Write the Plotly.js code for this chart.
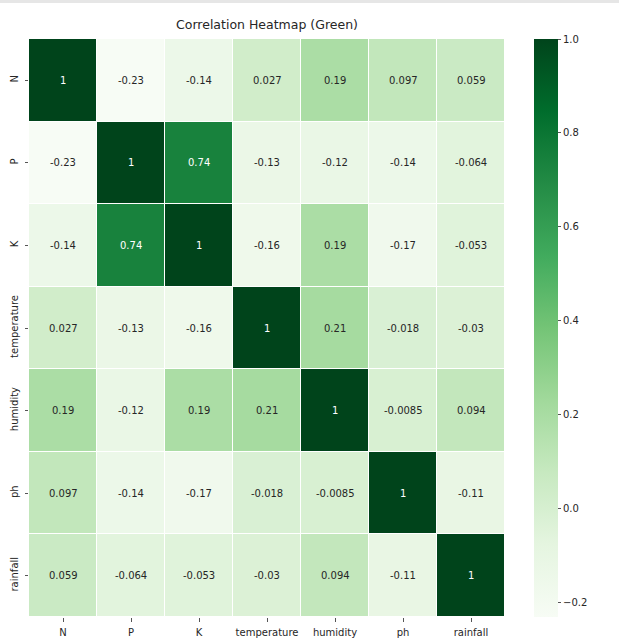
<!DOCTYPE html>
<html>
<head>
<meta charset="utf-8">
<script src="https://cdn.plot.ly/plotly-3.0.1.min.js"></script>
<style>html,body{margin:0;padding:0;background:#fff;}#chart{width:619px;height:639px;}</style>
</head>
<body>
<div id="chart"></div>
<script>
const labels = ["N", "P", "K", "temperature", "humidity", "ph", "rainfall"];
const rowN = [1, -0.23, -0.14, 0.027, 0.19, 0.097, 0.059];
const rowP = [-0.23, 1, 0.74, -0.13, -0.12, -0.14, -0.064];
const rowK = [-0.14, 0.74, 1, -0.16, 0.19, -0.17, -0.053];
const rowTemperature = [0.027, -0.13, -0.16, 1, 0.21, -0.018, -0.03];
const rowHumidity = [0.19, -0.12, 0.19, 0.21, 1, -0.0085, 0.094];
const rowPh = [0.097, -0.14, -0.17, -0.018, -0.0085, 1, -0.11];
const rowRainfall = [0.059, -0.064, -0.053, -0.03, 0.094, -0.11, 1];
const zMin = -0.231;
const zMax = 1;
const cbTicks = [-0.2, 0, 0.2, 0.4, 0.6, 0.8, 1.0];

const z = [rowN, rowP, rowK, rowTemperature, rowHumidity, rowPh, rowRainfall];

const greens = ["#f7fcf5", "#e5f5e0", "#c7e9c0", "#a1d99b", "#74c476", "#41ab5d", "#238b45", "#006d2c", "#00441b"];
const colorscale = greens.map((c, i) => [i / (greens.length - 1), c]);

function hexToRgb(h) { return [parseInt(h.slice(1,3),16), parseInt(h.slice(3,5),16), parseInt(h.slice(5,7),16)]; }
function colorAt(v) {
  let t = (v - zMin) / (zMax - zMin);
  t = Math.max(0, Math.min(1, t));
  const p = t * (greens.length - 1);
  const i = Math.min(Math.floor(p), greens.length - 2);
  const f = p - i;
  const a = hexToRgb(greens[i]), b = hexToRgb(greens[i + 1]);
  return a.map((x, k) => x + (b[k] - x) * f);
}
function lum(rgb) {
  const c = rgb.map(x => { x /= 255; return x <= 0.03928 ? x / 12.92 : Math.pow((x + 0.055) / 1.055, 2.4); });
  return 0.2126 * c[0] + 0.7152 * c[1] + 0.0722 * c[2];
}

const annotations = [];
z.forEach((row, i) => row.forEach((v, j) => {
  annotations.push({
    x: labels[j], y: labels[i], xref: 'x', yref: 'y',
    text: String(v), showarrow: false,
    font: {family: 'DejaVu Sans', size: 10, color: lum(colorAt(v)) < 0.408 ? '#ffffff' : '#262626'}
  });
}));

const data = [{
  type: 'heatmap',
  z: z, x: labels, y: labels,
  zmin: zMin, zmax: zMax,
  colorscale: colorscale,
  xgap: 1, ygap: 1,
  hoverongaps: false,
  colorbar: {
    x: 505 / 476, xanchor: 'left', xref: 'paper',
    y: 0.5, yanchor: 'middle', len: 1, lenmode: 'fraction',
    thickness: 24, thicknessmode: 'pixels',
    xpad: 0, ypad: 0, outlinewidth: 0,
    tickvals: cbTicks, tickformat: '.1f',
    ticks: 'outside', ticklen: 3.5, tickwidth: 1, tickcolor: '#555',
    tickfont: {family: 'DejaVu Sans', size: 10, color: '#262626'}
  }
}];

const layout = {
  width: 619, height: 639,
  margin: {l: 29, r: 114, t: 39, b: 22, pad: 0},
  paper_bgcolor: '#ffffff', plot_bgcolor: '#ffffff',
  title: {
    text: 'Correlation Heatmap (Green)',
    font: {family: 'DejaVu Sans', size: 12.5, color: '#262626'},
    x: 0.5, xref: 'paper', xanchor: 'center',
    y: 1 - 25 / 639, yref: 'container', yanchor: 'middle'
  },
  xaxis: {
    type: 'category', showgrid: false, zeroline: false, showline: false,
    ticks: 'outside', ticklen: 3.5, tickwidth: 1, tickcolor: '#555',
    tickfont: {family: 'DejaVu Sans', size: 10, color: '#262626'},
    tickangle: 0, ticklabelstandoff: 2
  },
  yaxis: {
    type: 'category', autorange: 'reversed', showgrid: false, zeroline: false, showline: false,
    ticks: 'outside', ticklen: 3.5, tickwidth: 1, tickcolor: '#555',
    tickfont: {family: 'DejaVu Sans', size: 10, color: '#262626'},
    tickangle: -90, ticklabelstandoff: 3
  },
  annotations: annotations,
  shapes: [{
    type: 'rect', xref: 'paper', yref: 'paper',
    x0: -29 / 476, x1: 590 / 476,
    y0: 1 + 36 / 578, y1: 1 + 39 / 578,
    fillcolor: '#e6e6e6', line: {width: 0}, layer: 'below'
  }]
};

Plotly.newPlot('chart', data, layout, {displayModeBar: false, staticPlot: true});
</script>
</body>
</html>
